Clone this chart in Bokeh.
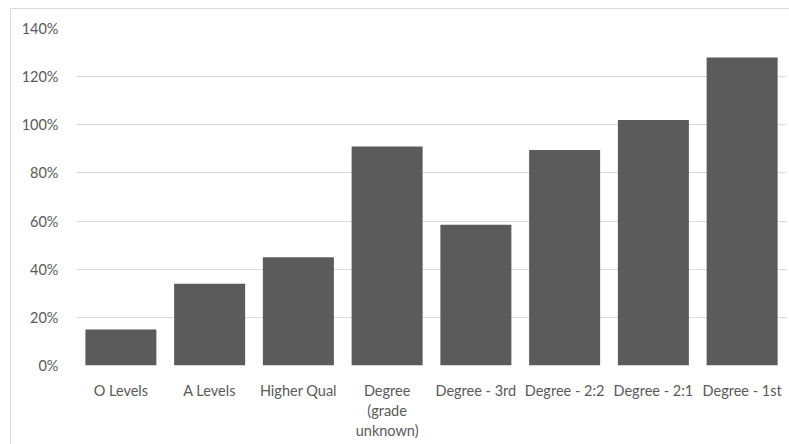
from bokeh.plotting import figure
from bokeh.models import ColumnDataSource, NumeralTickFormatter, FixedTicker, Range1d
from bokeh.embed import file_html
from bokeh.resources import INLINE

categories = ["O Levels", "A Levels", "Higher Qual", "Degree\n(grade\nunknown)",
              "Degree - 3rd", "Degree - 2:2", "Degree - 2:1", "Degree - 1st"]
values = [0.15, 0.34, 0.45, 0.91, 0.585, 0.895, 1.02, 1.28]
y_ticks = [0, 0.2, 0.4, 0.6, 0.8, 1.0, 1.2, 1.4]

src = ColumnDataSource(data=dict(cat=categories, val=values))

p = figure(x_range=categories, y_range=Range1d(0, 1.4),
           width=779, height=436, output_backend="svg", toolbar_location=None,
           min_border_left=65, min_border_right=4, min_border_top=19, min_border_bottom=80,
           margin=(8, 0, 0, 10))
p.styles = {"border-left": "1px solid #d9d9d9", "border-top": "1px solid #d9d9d9"}
p.outline_line_color = None

p.vbar(x="cat", top="val", width=0.8, source=src, fill_color="#5b5b5b", line_color=None)

p.yaxis.ticker = FixedTicker(ticks=y_ticks)
p.yaxis.formatter = NumeralTickFormatter(format="0%")
for ax in (p.xaxis, p.yaxis):
    ax.axis_line_color = None
    ax.major_tick_line_color = None
    ax.minor_tick_line_color = None
    ax.major_label_text_color = "#595959"
    ax.major_label_text_font = "Lato"
    ax.major_label_text_font_size = "14.5px"
p.yaxis.major_label_standoff = 12
p.xaxis.major_label_standoff = 10

p.xgrid.grid_line_color = None
p.ygrid.grid_line_color = "#d9d9d9"
p.ygrid.grid_line_width = 1

open("out.html", "w").write(file_html(p, INLINE))
